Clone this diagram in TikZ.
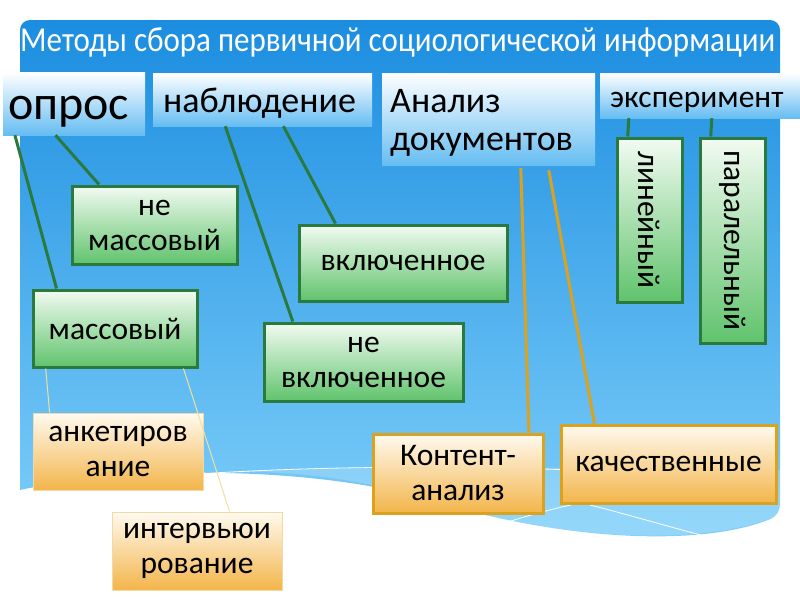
\documentclass[tikz,border=0pt]{standalone}
\usepackage{fontspec}
\setmainfont{Carlito}
\usetikzlibrary{calc}
\definecolor{panTop}{HTML}{1B8DE0}
\definecolor{panBot}{HTML}{80D0FA}
\definecolor{boxBlueBot}{HTML}{66BDF2}
\definecolor{grTop}{HTML}{F2FBF2}
\definecolor{grBot}{HTML}{60C36C}
\definecolor{grLine}{HTML}{2B7A3D}
\definecolor{orTop}{HTML}{FFFAF0}
\definecolor{orBot}{HTML}{F3B54A}
\definecolor{orLine}{HTML}{DCA21E}
\definecolor{paleLine}{HTML}{F0E0A0}
\tikzset{
  bodyfont/.style={font=\fontsize{31.5}{35}\selectfont},
  topbox/.style={inner sep=0pt, top color=white, bottom color=boxBlueBot, draw=none},
  toptext/.style={anchor=base west, inner sep=0pt, align=left},
  grbox/.style={inner sep=0pt, top color=grTop, bottom color=grBot, draw=grLine, line width=3pt, align=center, bodyfont},
  orbox/.style={inner sep=0pt, top color=orTop, bottom color=orBot, draw=orLine, line width=3pt, align=center, bodyfont},
  orthin/.style={inner sep=0pt, top color=orTop, bottom color=orBot, draw=orLine!40, line width=1pt, align=center, bodyfont},
  gline/.style={draw=grLine, line width=3pt},
  oline/.style={draw=orLine, line width=3pt},
  pline/.style={draw=paleLine, line width=1pt},
}
\begin{document}
\begin{tikzpicture}[x=1pt,y=-1pt]
\useasboundingbox (0,0) rectangle (800,600);
% background panel
\shade[top color=panTop, bottom color=panBot, rounded corners=10]
  (20,490) -- (20,20) -- (780,20) -- (780,515) [sharp corners] .. controls (700,548) and (560,540) .. (430,500)
  .. controls (330,470) and (150,462) .. (20,490) -- cycle;
% lighter wave
\fill[white,opacity=0.18] (170,476) .. controls (350,462) and (600,470) .. (780,470)
  -- (780,515) .. controls (700,548) and (560,540) .. (430,500)
  .. controls (330,470) and (250,468) .. (170,476) -- cycle;
\draw[white,line width=0.8pt] (170,476) .. controls (350,462) and (550,468) .. (613,472);
\draw[white,line width=0.8pt] (495,526) .. controls (560,505) and (600,498) .. (640,494);
\draw[white,line width=0.8pt] (590,505) .. controls (630,515) and (680,530) .. (720,540);
% title
\node[anchor=base west, text=white, inner sep=0pt] (title) at (20,51) {\fontsize{35}{40}\selectfont\addfontfeatures{FakeStretch=0.885}Методы сбора первичной социологической информации};
% top boxes
\node[topbox, minimum width=142, minimum height=63] (opros) at (74,103.5) {};
\node[toptext, font=\fontsize{48}{52}\selectfont] (oprosT) at (8,119) {опрос};
\node[topbox, minimum width=219, minimum height=53] (nabl) at (262.5,99.5) {};
\node[toptext, font=\fontsize{36}{38}\selectfont] (nablT) at (163,112) {наблюдение};
\node[topbox, minimum width=213, minimum height=92] (anal) at (488.5,119) {};
\node[toptext, font=\fontsize{36}{38}\selectfont] (analT) at (390,150) {Анализ\\документов};
\node[topbox, minimum width=200, minimum height=45] (eksp) at (700,95.5) {};
\node[toptext, font=\fontsize{31.5}{34}\selectfont] (ekspT) at (610,107) {эксперимент};
% green boxes
\node[grbox, minimum width=165, minimum height=78] (nemass) at (154.5,225) {не\\массовый};
\node[grbox, minimum width=164, minimum height=77] (mass) at (115,328.5) {массовый};
\node[grbox, minimum width=208, minimum height=76] (vkl) at (403,263) {включенное};
\node[grbox, minimum width=199, minimum height=78] (nevkl) at (363.5,362) {не\\включенное};
\node[grbox, minimum width=65, minimum height=164] (lin) at (649.5,220) {\rotatebox{-90}{линейный}};
\node[grbox, minimum width=65, minimum height=205] (par) at (732.5,240.5) {\rotatebox{-90}{паралельный}};
% orange boxes
\node[orthin, minimum width=170, minimum height=77] (anket) at (118,451.5) {анкетиров\\ание};
\node[orthin, minimum width=170, minimum height=78] (interv) at (197,551) {интервьюи\\рование};
\node[orbox, minimum width=170, minimum height=79] (kont) at (458,473.5) {Контент-\\анализ};
\node[orbox, minimum width=215, minimum height=78] (kach) at (668.5,464) {качественные};
% connectors
\draw[gline] ($(opros.south west)!0.085!(opros.south east)$) -- ($(mass.north west)!0.15!(mass.north east)$);
\draw[gline] ($(opros.south west)!0.37!(opros.south east)$) -- ($(nemass.north west)!0.17!(nemass.north east)$);
\draw[gline] ($(nabl.south west)!0.33!(nabl.south east)$) -- ($(nevkl.north west)!0.15!(nevkl.north east)$);
\draw[gline] ($(nabl.south west)!0.595!(nabl.south east)$) -- ($(vkl.north west)!0.18!(vkl.north east)$);
\draw[gline] ($(eksp.south west)+(29,0)$) -- ($(lin.north west)!0.18!(lin.north east)$);
\draw[gline] ($(eksp.south west)+(112,0)$) -- ($(par.north west)!0.18!(par.north east)$);
\draw[oline] ($(anal.south west)+(139,3)$) -- ($(kont.north west)!0.91!(kont.north east)$);
\draw[oline] ($(anal.south west)+(167,5)$) -- ($(kach.north west)!0.16!(kach.north east)$);
\draw[pline] ($(mass.south west)!0.085!(mass.south east)$) -- ($(anket.north west)!0.1!(anket.north east)$);
\draw[pline] ($(mass.south west)!0.91!(mass.south east)$) -- ($(interv.north west)!0.69!(interv.north east)$);
\end{tikzpicture}
\end{document}
